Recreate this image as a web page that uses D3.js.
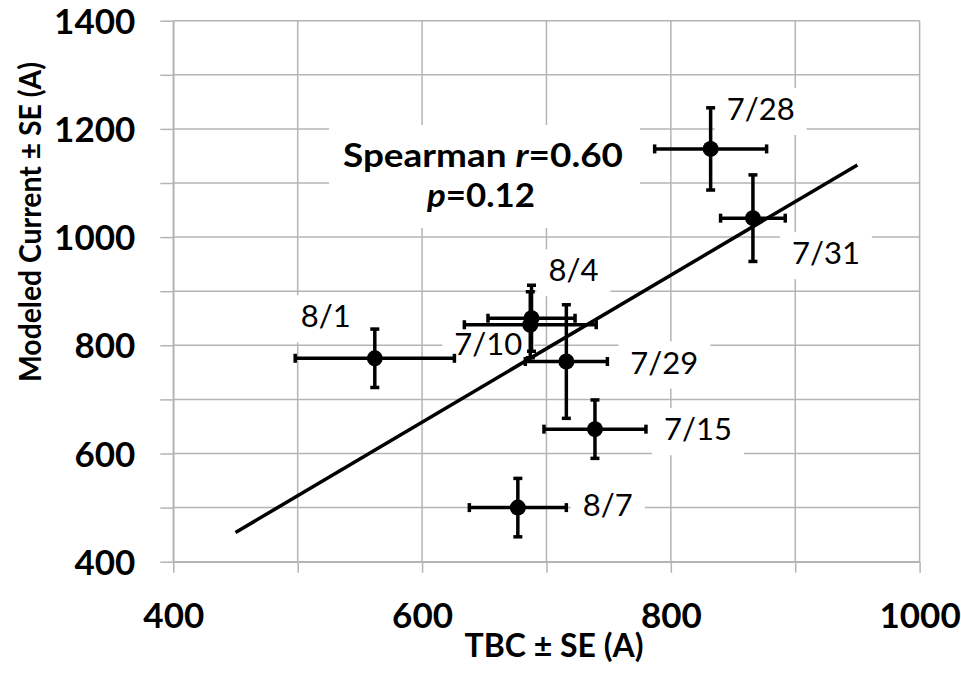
<!DOCTYPE html>
<html>
<head>
<meta charset="utf-8">
<script src="https://cdn.jsdelivr.net/npm/d3@7"></script>
<style>
  html, body { margin: 0; padding: 0; background: #fff; }
  svg { display: block; }
  text { font-family: Lato, "Open Sans", sans-serif; fill: #000; }
</style>
</head>
<body>
<svg id="chart" width="961" height="688"></svg>
<script>
// Sampling dates
const dates = ["7/10", "7/15", "7/28", "7/29", "7/31", "8/1", "8/4", "8/7"];
// TBC (A) and its standard error
const tbc    = [687, 739, 832, 716, 866, 562, 688, 677];
const tbcSE  = [53, 41, 45, 33, 26, 64, 35, 39];
// Modeled current (A) and its standard error
const modeled   = [838, 645, 1163, 770, 1035, 776, 850, 500];
const modeledSE = [61, 54, 76, 105, 80, 54, 61, 54];

// Axis ticks and labelled values
const xTicks = [400, 500, 600, 700, 800, 900, 1000];
const yTicks = [400, 500, 600, 700, 800, 900, 1000, 1100, 1200, 1300, 1400];
const labelStep = 200;

// x-range covered by the fitted trend line
const fitRange = [450, 950];

// Statistics annotation
const spearmanR = "0.60";
const spearmanP = "0.12";

// Label placement around each point (pixel offsets from the marker)
const labelOffset = {
  "7/10": [-42, 30], "7/15": [103, 11], "7/28": [50, -29], "7/29": [98, 12],
  "7/31": [73, 46],  "8/1": [-49, -31], "8/4": [42, -37],  "8/7": [90, 8]
};

const W = 961, H = 688;
const margin = { top: 20.7, right: 41.4, bottom: 126.3, left: 173.3 };
const svg = d3.select("#chart");

const x = d3.scaleLinear().domain([400, 1000]).range([margin.left, W - margin.right]);
const y = d3.scaleLinear().domain([400, 1400]).range([H - margin.bottom, margin.top]);

const gridColor = "#b4b4b4";

// Gridlines
const grid = svg.append("g");
grid.selectAll(".vg").data(xTicks).join("line")
  .attr("x1", d => x(d)).attr("x2", d => x(d))
  .attr("y1", y.range()[1]).attr("y2", y.range()[0])
  .attr("stroke", gridColor).attr("stroke-width", 1.5);
grid.selectAll(".hg").data(yTicks).join("line")
  .attr("x1", x.range()[0]).attr("x2", x.range()[1])
  .attr("y1", d => y(d)).attr("y2", d => y(d))
  .attr("stroke", gridColor).attr("stroke-width", 1.5);

// Axes
const xAxis = svg.append("g")
  .attr("transform", `translate(0,${y.range()[0]})`)
  .call(d3.axisBottom(x).tickValues(xTicks).tickSize(11).tickSizeOuter(0)
    .tickFormat(d => d % labelStep === 0 ? d : ""));
const yAxis = svg.append("g")
  .attr("transform", `translate(${x.range()[0]},0)`)
  .call(d3.axisLeft(y).tickValues(yTicks).tickSize(13).tickSizeOuter(0)
    .tickFormat(d => d % labelStep === 0 ? d : ""));

[xAxis, yAxis].forEach(g => {
  g.select(".domain").attr("stroke", gridColor).attr("stroke-width", 1.5);
  g.selectAll(".tick line").attr("stroke", gridColor).attr("stroke-width", 1.5);
  g.selectAll(".tick text")
    .style("font-family", "Lato, sans-serif")
    .style("font-weight", 700)
    .style("font-size", "35px")
    .attr("fill", "#000");
});
xAxis.selectAll(".tick text").attr("y", 66).attr("dy", 0);
yAxis.selectAll(".tick text").attr("x", -38).attr("dy", "0.36em");

// Axis titles
svg.append("text")
  .attr("x", 554).attr("y", 657)
  .attr("text-anchor", "middle")
  .style("font-weight", 700).style("font-size", "32px")
  .text("TBC ± SE (A)");
svg.append("text")
  .attr("transform", "translate(41,222) rotate(-90)")
  .attr("text-anchor", "middle")
  .attr("textLength", 320).attr("lengthAdjust", "spacingAndGlyphs")
  .style("font-weight", 700).style("font-size", "31px")
  .text("Modeled Current ± SE (A)");

const points = dates.map((d, i) => ({
  date: d, x: tbc[i], xe: tbcSE[i], y: modeled[i], ye: modeledSE[i]
}));

// White label backgrounds
const labelLayer = svg.append("g");
const labelFont = 31;

// Statistics annotation box: white background, two centred lines
const stat = svg.append("g");
stat.append("rect").attr("fill", "#fff")
  .attr("x", 329).attr("y", 125).attr("width", 311).attr("height", 103);
const statLine = (cx, cy, len, parts) => {
  const t = stat.append("text")
    .attr("x", cx).attr("y", cy)
    .attr("text-anchor", "middle")
    .attr("textLength", len).attr("lengthAdjust", "spacingAndGlyphs")
    .style("font-weight", 700).style("font-size", "33px");
  parts.forEach(([s, italic]) => {
    t.append("tspan").style("font-style", italic ? "italic" : "normal").text(s);
  });
};
statLine(483, 167, 280, [["Spearman ", false], ["r", true], ["=" + spearmanR, false]]);
statLine(481, 207, 108, [["p", true], ["=" + spearmanP, false]]);

// Least-squares trend line
const mx = d3.mean(tbc), my = d3.mean(modeled);
const slope = d3.sum(tbc, (v, i) => (v - mx) * (modeled[i] - my)) / d3.sum(tbc, v => (v - mx) ** 2);
const intercept = my - slope * mx;
const labelTexts = labelLayer.selectAll("g").data(points).join("g");

svg.append("line")
  .attr("x1", x(fitRange[0])).attr("y1", y(intercept + slope * fitRange[0]))
  .attr("x2", x(fitRange[1])).attr("y2", y(intercept + slope * fitRange[1]))
  .attr("stroke", "#000").attr("stroke-width", 3.5);

// Error bars with caps
const cap = 4.5;
const eb = svg.append("g").attr("stroke", "#000").attr("stroke-width", 3.5);
points.forEach(p => {
  const cx = x(p.x), cy = y(p.y);
  const xl = x(p.x - p.xe), xr = x(p.x + p.xe);
  const yt = y(p.y + p.ye), yb = y(p.y - p.ye);
  eb.append("line").attr("x1", xl).attr("x2", xr).attr("y1", cy).attr("y2", cy);
  eb.append("line").attr("x1", cx).attr("x2", cx).attr("y1", yt).attr("y2", yb);
  eb.append("line").attr("x1", xl).attr("x2", xl).attr("y1", cy - cap).attr("y2", cy + cap);
  eb.append("line").attr("x1", xr).attr("x2", xr).attr("y1", cy - cap).attr("y2", cy + cap);
  eb.append("line").attr("x1", cx - cap).attr("x2", cx + cap).attr("y1", yt).attr("y2", yt);
  eb.append("line").attr("x1", cx - cap).attr("x2", cx + cap).attr("y1", yb).attr("y2", yb);
});

// Markers
svg.append("g").selectAll("circle").data(points).join("circle")
  .attr("cx", d => x(d.x)).attr("cy", d => y(d.y)).attr("r", 8)
  .attr("fill", "#000");

// Date labels with white fill behind them
labelTexts.each(function (d) {
  const g = d3.select(this);
  const [dx, dy] = labelOffset[d.date];
  const tx = x(d.x) + dx, ty = y(d.y) + dy;
  const rect = g.append("rect").attr("fill", "#fff");
  const t = svg.append("text")
    .attr("x", tx).attr("y", ty)
    .attr("text-anchor", "middle")
    .style("font-size", labelFont + "px")
    .text(d.date);
  const w = t.node().getComputedTextLength();
  rect.attr("x", tx - w / 2 - 12).attr("y", ty - 32)
    .attr("width", w + 24).attr("height", 47);
});
</script>
</body>
</html>
